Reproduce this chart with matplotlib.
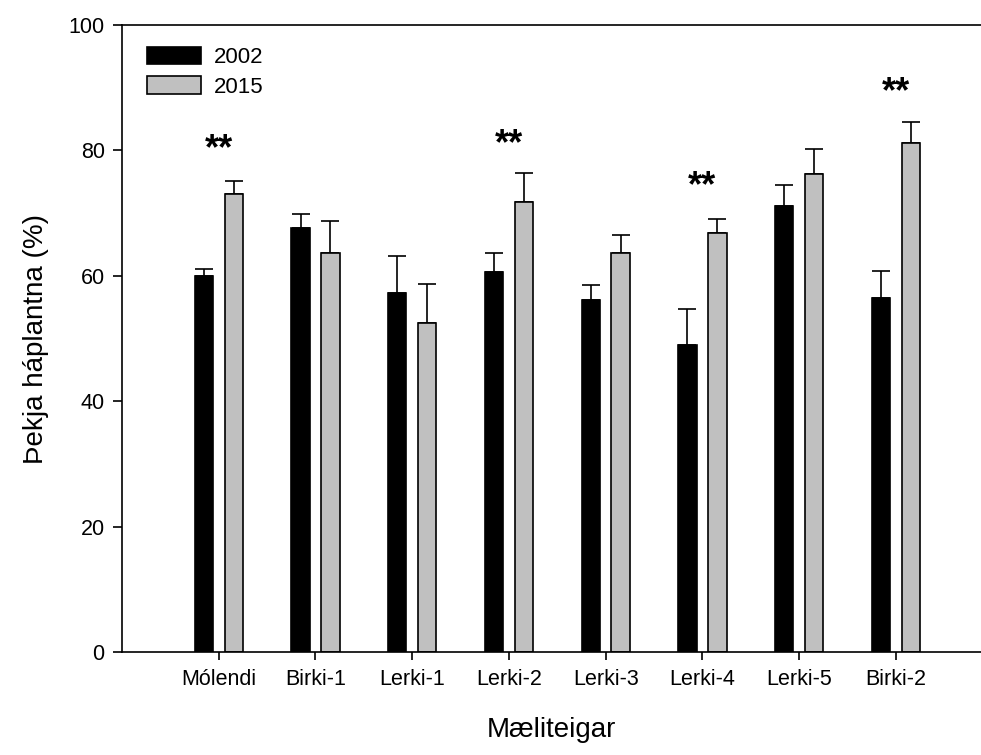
import numpy as np
import matplotlib
matplotlib.use("Agg")
from matplotlib import pyplot as plt

plt.rcParams['font.family'] = ['Liberation Sans', 'DejaVu Sans']

sites = ["Mólendi", "Birki-1", "Lerki-1", "Lerki-2", "Lerki-3", "Lerki-4", "Lerki-5", "Birki-2"]
cover_2002 = [60.0, 67.6, 57.3, 60.6, 56.1, 49.0, 71.2, 56.4]
se_2002 = [1.1, 2.3, 5.9, 3.0, 2.4, 5.7, 3.3, 4.4]
cover_2015 = [73.0, 63.7, 52.5, 71.8, 63.7, 66.8, 76.2, 81.2]
se_2015 = [2.1, 5.1, 6.2, 4.6, 2.8, 2.2, 4.0, 3.4]
# marks of significance, (site index, height of the stars)
stars_site = [0, 3, 5, 7]
stars_y = [80.1, 80.9, 74.2, 89.2]

x = np.arange(len(sites))
w = 0.19
off = 0.155

fig = plt.figure(figsize=(9.81, 7.55), dpi=100)
ax = fig.add_axes([0.1244, 0.1364, 0.8756, 0.8305])

ax.bar(x - off, cover_2002, w, color="black", edgecolor="black", linewidth=1.2, label="2002", zorder=2)
ax.bar(x + off, cover_2015, w, color="#c0c0c0", edgecolor="black", linewidth=1.2, label="2015", zorder=2)
ax.errorbar(x - off, cover_2002, yerr=[np.zeros(len(x)), se_2002], fmt="none",
            ecolor="black", elinewidth=1.2, capsize=6.4, capthick=1.2, zorder=1)
ax.errorbar(x + off, cover_2015, yerr=[np.zeros(len(x)), se_2015], fmt="none",
            ecolor="black", elinewidth=1.2, capsize=6.4, capthick=1.2, zorder=1)

for i, y in zip(stars_site, stars_y):
    ax.text(x[i], y, "**", ha="center", va="center", fontsize=26, fontweight="bold")

ax.set_xlim(-1, 7.88)
ax.set_ylim(0, 100)
ax.set_yticks([0, 20, 40, 60, 80, 100])
ax.set_xticks(x)
ax.set_xticklabels(sites)
ax.tick_params(axis="both", direction="out", length=6.5, width=1.2, labelsize=15.5, pad=6)
ax.tick_params(axis="x", length=6)
ax.spines["right"].set_visible(False)
for s in ["left", "top", "bottom"]:
    ax.spines[s].set_linewidth(1.2)

ax.set_xlabel("Mæliteigar", fontsize=20, labelpad=20)
ax.set_ylabel("Þekja háplantna (%)", fontsize=20, labelpad=14)

ax.legend(loc="upper left", bbox_to_anchor=(0.029, 0.965), frameon=False, fontsize=16,
          handlelength=2.45, handleheight=0.83, handletextpad=0.55, labelspacing=0.35,
          borderpad=0, borderaxespad=0)

fig.savefig("out.png", dpi=100)
